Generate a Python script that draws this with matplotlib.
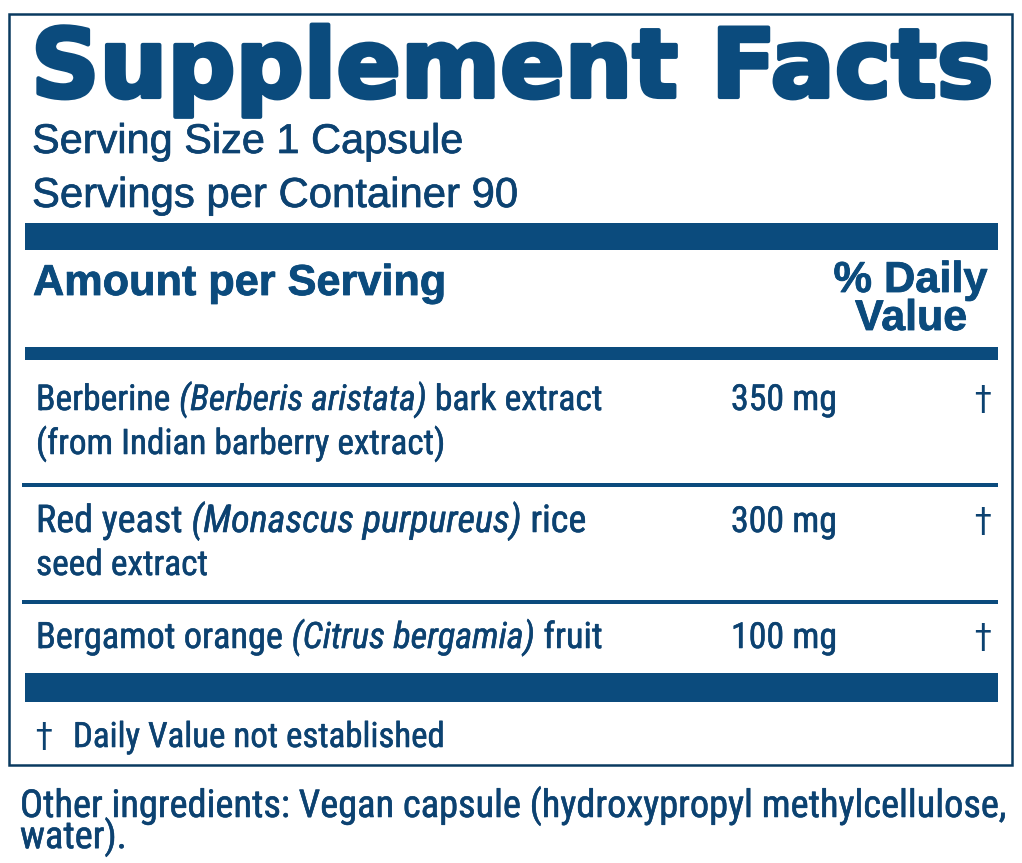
import matplotlib
matplotlib.use('Agg')
import matplotlib.pyplot as plt
import matplotlib.patheffects as pe
from matplotlib.patches import Rectangle
from matplotlib import font_manager

# label content
title = 'Supplement Facts'
serving_size = 'Serving Size 1 Capsule'
servings = 'Servings per Container 90'
amount_head = 'Amount per Serving'
dv_head = ['% Daily', 'Value']
rows_line1 = [
    [('Berberine', 'normal'), ('(Berberis aristata)', 'italic'), ('bark extract', 'normal')],
    [('Red yeast', 'normal'), ('(Monascus purpureus)', 'italic'), ('rice', 'normal')],
    [('Bergamot orange', 'normal'), ('(Citrus bergamia)', 'italic'), ('fruit', 'normal')],
]
rows_line2 = ['(from Indian barberry extract)', 'seed extract', '']
amounts = ['350 mg', '300 mg', '100 mg']
daily_values = ['\u2020', '\u2020', '\u2020']
footnote = 'Daily Value not established'
other = ['Other ingredients: Vegan capsule (hydroxypropyl methylcellulose,', 'water).']

BLUE = '#0b4b7d'
INK = '#0c4271'

names = {f.name for f in font_manager.fontManager.ttflist}
narrow = 'Liberation Sans'
narrow_stretch = 'normal'
for cand in ['Liberation Sans Narrow', 'Roboto Condensed', 'Open Sans Condensed']:
    if cand in names:
        narrow = cand
        break
else:
    for f in font_manager.fontManager.ttflist:
        if f.name == 'DejaVu Sans' and f.stretch == 'condensed':
            narrow = 'DejaVu Sans'
            narrow_stretch = 'condensed'
            break

fig = plt.figure(figsize=(10.22, 8.63), dpi=100)
ax = fig.add_axes([0, 0, 1, 1])
ax.set_xlim(0, 1022)
ax.set_ylim(863, 0)
ax.axis('off')
renderer = fig.canvas.get_renderer()


def put(x, y, parts, width, family='Liberation Sans', weight='normal', ha='left',
        stretch='normal', color=INK, stroke=0.0):
    # parts: list of (text, style); fit the whole line to the given pixel width
    fx = [pe.withStroke(linewidth=stroke, foreground=color)] if stroke else None
    texts = [ax.text(0, y, s, fontsize=20, fontstyle=st, fontweight=weight,
                     family=family, fontstretch=stretch, color=color, va='baseline',
                     path_effects=fx)
             for s, st in parts]

    def measure(size):
        for t in texts:
            t.set_fontsize(size)
        ws = [t.get_window_extent(renderer).width for t in texts]
        gap = size * 100 / 72 * 0.24
        return ws, gap, sum(ws) + gap * (len(ws) - 1)

    ws, gap, total = measure(20)
    size = 20 * width / total
    ws, gap, total = measure(size)
    size = size * width / total
    ws, gap, total = measure(size)
    x0 = x - total if ha == 'right' else x
    for t, w in zip(texts, ws):
        t.set_x(x0)
        x0 += w + gap
    return texts, size


# outer border
ax.add_patch(Rectangle((9, 14), 1003, 751, fill=False, edgecolor='#0a3a60', linewidth=1.8))

# title and serving info
put(31, 97, [(title, 'normal')], 963, family='DejaVu Sans', weight='bold', color=BLUE,
    stroke=3.0)
put(32, 153, [(serving_size, 'normal')], 431, stroke=0.5)
put(32, 207, [(servings, 'normal')], 486, stroke=0.5)

# heavy bars
ax.add_patch(Rectangle((25, 223), 973, 27, color=BLUE, linewidth=0))
ax.add_patch(Rectangle((25, 347), 973, 13, color=BLUE, linewidth=0))
ax.add_patch(Rectangle((25, 673), 973, 29, color=BLUE, linewidth=0))

put(33, 295, [(amount_head, 'normal')], 414, weight='bold', color=BLUE, stroke=0.6)
put(987, 292, [(dv_head[0], 'normal')], 154, weight='bold', ha='right', color=BLUE, stroke=0.6)
put(967, 330, [(dv_head[1], 'normal')], 112, weight='bold', ha='right', color=BLUE, stroke=0.6)

# ingredient rows
base1 = [410, 532, 648]
base2 = [454, 575, None]
widths1 = [567, 551, 566]
widths2 = [409, 172, 0]
for i in range(len(rows_line1)):
    put(36, base1[i], rows_line1[i], widths1[i], family=narrow, stretch=narrow_stretch,
        stroke=0.4)
    if rows_line2[i]:
        put(36, base2[i], [(rows_line2[i], 'normal')], widths2[i], family=narrow,
            stretch=narrow_stretch, stroke=0.4)
    put(731, base1[i], [(amounts[i], 'normal')], 106, family=narrow, stretch=narrow_stretch,
        stroke=0.4)
    ax.text(982, base1[i], daily_values[i], fontsize=24, family='DejaVu Sans', color=INK,
            ha='center', va='baseline')

# thin separators
for yl in [483, 600]:
    ax.add_patch(Rectangle((22, yl), 976, 4, color=BLUE, linewidth=0))

# footnote
ax.text(43, 747, '\u2020', fontsize=24, family='DejaVu Sans', color=INK, ha='center', va='baseline')
put(73, 747, [(footnote, 'normal')], 372, family=narrow, stretch=narrow_stretch, stroke=0.4)

# other ingredients: one two-line text, tight leading like the label
tmp, s = put(20, 817, [(other[0], 'normal')], 985, family=narrow, stretch=narrow_stretch)
bb1 = tmp[0].get_window_extent(renderer)
top = 863 - bb1.y1
tmp[0].remove()
fx = [pe.withStroke(linewidth=0.4, foreground=INK)]
t2 = ax.text(20, top, '\n'.join(other), fontsize=s, family=narrow, fontstretch=narrow_stretch,
             color=INK, va='top', linespacing=1.0, path_effects=fx)
dy = t2.get_window_extent(renderer).height - bb1.height
t2.set_linespacing(28.5 / dy)

fig.savefig('out.png', dpi=100)
